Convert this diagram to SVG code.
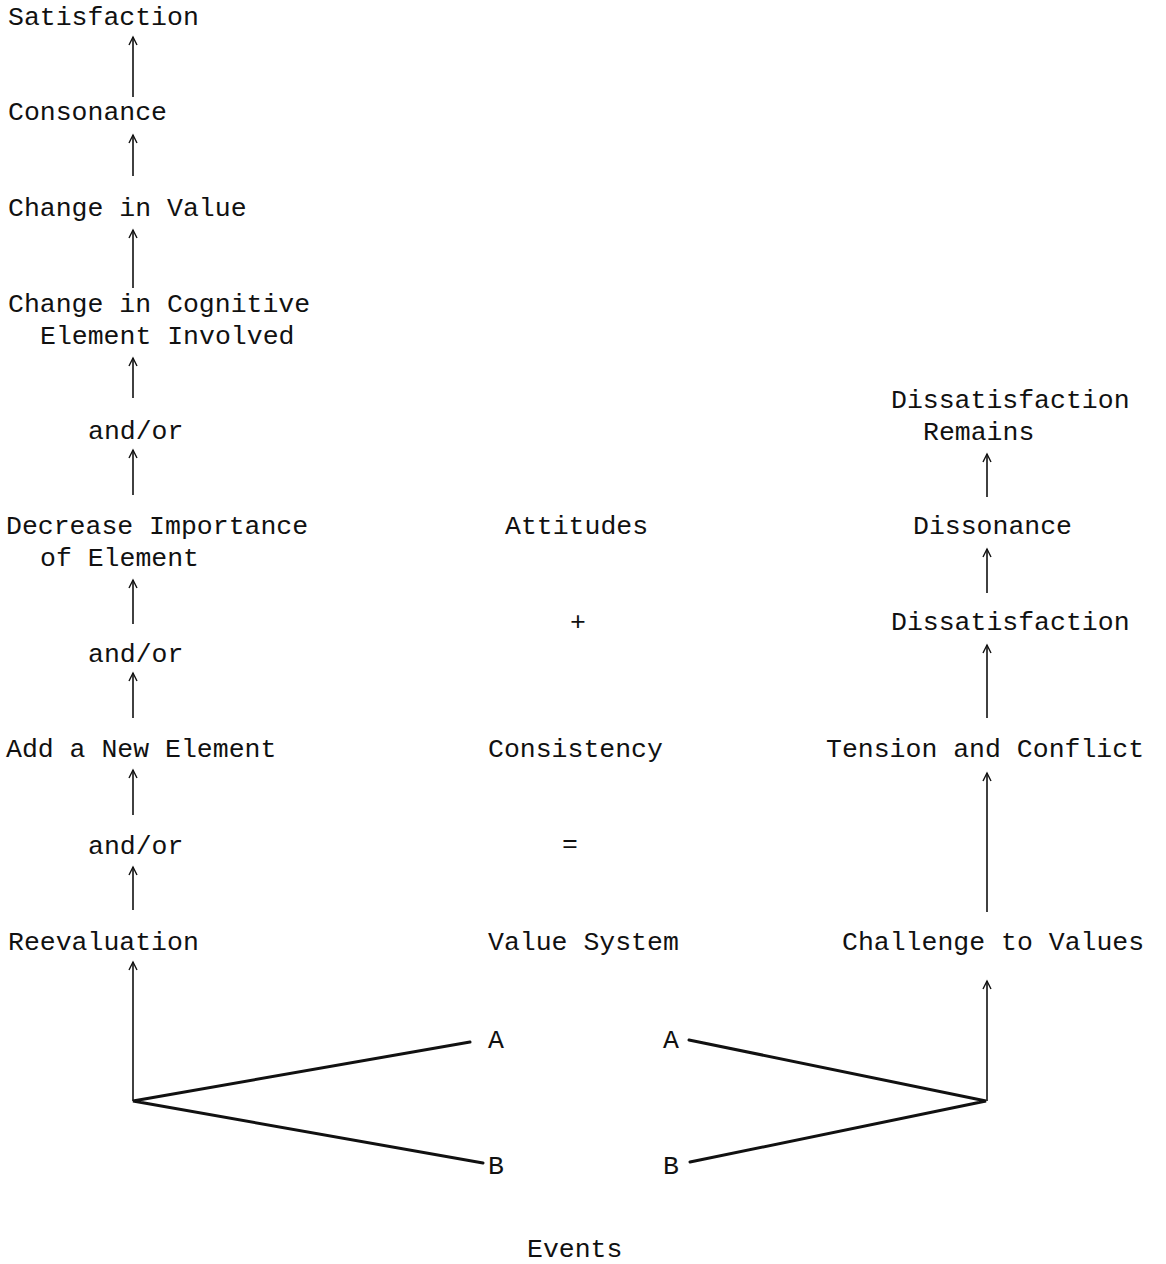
<svg xmlns="http://www.w3.org/2000/svg" width="1166" height="1264" viewBox="0 0 1166 1264">
<style>
text{font-family:"Liberation Mono","Courier New",monospace;font-size:26.5px;fill:#111}
.a{stroke:#111;stroke-width:1.6;fill:none;marker-end:url(#ah)}
.f{stroke:#111;stroke-width:3;fill:none;stroke-linecap:round}
</style>
<defs>
<marker id="ah" markerUnits="userSpaceOnUse" markerWidth="14" markerHeight="14" viewBox="-10 -7 14 14" refX="0" refY="0" orient="auto" overflow="visible">
<path d="M-8,-4 L0,0 L-8,4" stroke="#111" stroke-width="1.4" fill="none"/>
</marker>
</defs>
<rect width="1166" height="1264" fill="#fff"/>
<g id="n-satisfaction"><text x="8" y="25">Satisfaction</text></g>
<g id="n-consonance"><text x="8" y="120">Consonance</text></g>
<g id="n-change-value"><text x="8" y="216">Change in Value</text></g>
<g id="n-change-cognitive"><text x="8" y="312">Change in Cognitive</text><text x="40" y="344">Element Involved</text></g>
<g id="n-andor1"><text x="88" y="439">and/or</text></g>
<g id="n-decrease"><text x="6" y="534">Decrease Importance</text><text x="40" y="566">of Element</text></g>
<g id="n-andor2"><text x="88" y="662">and/or</text></g>
<g id="n-add"><text x="6" y="757">Add a New Element</text></g>
<g id="n-andor3"><text x="88" y="854">and/or</text></g>
<g id="n-reevaluation"><text x="8" y="950">Reevaluation</text></g>
<g id="n-attitudes"><text x="505" y="534">Attitudes</text></g>
<g id="n-plus"><text x="570" y="630">+</text></g>
<g id="n-consistency"><text x="488" y="757">Consistency</text></g>
<g id="n-equals"><text x="562" y="852">=</text></g>
<g id="n-value-system"><text x="488" y="950">Value System</text></g>
<g id="n-events"><text x="527" y="1257">Events</text></g>
<g id="n-left-a"><text x="488" y="1048">A</text></g>
<g id="n-left-b"><text x="488" y="1174">B</text></g>
<g id="n-right-a"><text x="663" y="1048">A</text></g>
<g id="n-right-b"><text x="663" y="1174">B</text></g>
<g id="n-dissat-remains"><text x="891" y="408">Dissatisfaction</text><text x="923" y="440">Remains</text></g>
<g id="n-dissonance"><text x="913" y="534">Dissonance</text></g>
<g id="n-dissatisfaction"><text x="891" y="630">Dissatisfaction</text></g>
<g id="n-tension"><text x="826" y="757">Tension and Conflict</text></g>
<g id="n-challenge"><text x="842" y="950">Challenge to Values</text></g>
<g id="connectors">
<line class="a" x1="133" y1="97" x2="133" y2="37"/>
<line class="a" x1="133" y1="176" x2="133" y2="135"/>
<line class="a" x1="133" y1="288" x2="133" y2="230"/>
<line class="a" x1="133" y1="398" x2="133" y2="358"/>
<line class="a" x1="133" y1="495" x2="133" y2="450"/>
<line class="a" x1="133" y1="624" x2="133" y2="580"/>
<line class="a" x1="133" y1="718" x2="133" y2="673"/>
<line class="a" x1="133" y1="815" x2="133" y2="770"/>
<line class="a" x1="133" y1="910" x2="133" y2="867"/>
<line class="a" x1="133" y1="1101" x2="133" y2="962"/>
<polyline class="f" points="470,1042 133,1101 483,1163"/>
<line class="a" x1="987" y1="497" x2="987" y2="454"/>
<line class="a" x1="987" y1="593" x2="987" y2="549"/>
<line class="a" x1="987" y1="718" x2="987" y2="645"/>
<line class="a" x1="987" y1="912" x2="987" y2="773"/>
<line class="a" x1="987" y1="1101" x2="987" y2="981"/>
<polyline class="f" points="689,1040 986,1101 690,1162"/>
</g>
</svg>
